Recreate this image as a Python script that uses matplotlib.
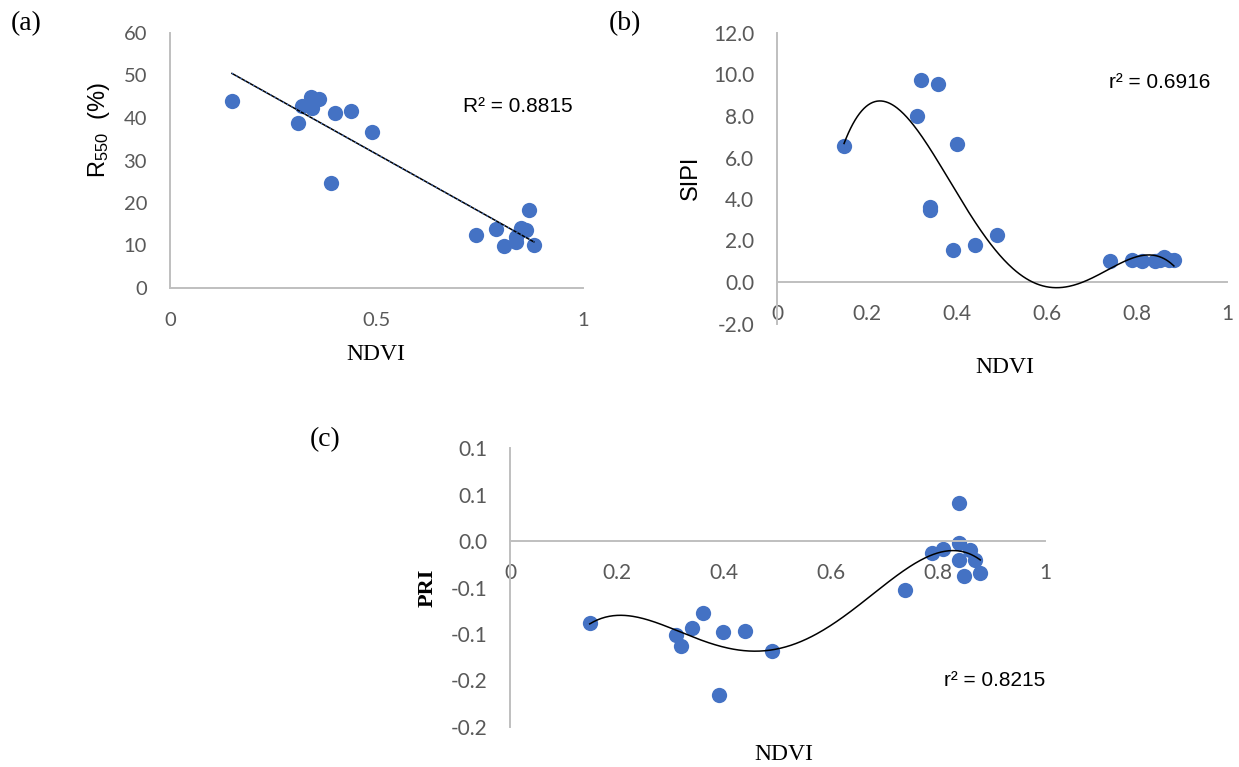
import numpy as np
import matplotlib
matplotlib.use("Agg")
import matplotlib.pyplot as plt
from matplotlib.ticker import FixedLocator, FixedFormatter, FormatStrFormatter

FIG_W, FIG_H = 1239, 767

# (a) R550 vs NDVI
ndvi_a = [0.150, 0.309, 0.319, 0.341, 0.343, 0.361, 0.389, 0.399, 0.439, 0.489,
          0.740, 0.790, 0.809, 0.838, 0.838, 0.850, 0.862, 0.869, 0.881]
r550 = [43.9, 38.8, 42.8, 45.0, 42.3, 44.4, 24.6, 41.1, 41.7, 36.8,
        12.4, 13.8, 9.8, 10.8, 12.0, 14.2, 13.6, 18.3, 10.2]

# (b) SIPI vs NDVI
ndvi_b = [0.149, 0.310, 0.320, 0.357, 0.339, 0.339, 0.390, 0.400, 0.439, 0.489,
          0.739, 0.789, 0.810, 0.839, 0.851, 0.860, 0.871, 0.882]
sipi = [6.57, 8.0, 9.75, 9.55, 3.62, 3.46, 1.53, 6.65, 1.77, 2.25,
        1.01, 1.05, 1.01, 1.00, 1.05, 1.20, 1.05, 1.05]

# (c) PRI vs NDVI
ndvi_c = [0.149, 0.310, 0.320, 0.340, 0.360, 0.390, 0.399, 0.439, 0.489, 0.739,
          0.788, 0.809, 0.839, 0.839, 0.839, 0.860, 0.849, 0.870, 0.879]
pri = [-0.0877, -0.1009, -0.1124, -0.0938, -0.0777, -0.1654, -0.0981, -0.0963, -0.1181, -0.0526,
       -0.0132, -0.0086, 0.0412, -0.0018, -0.0204, -0.0097, -0.0376, -0.0204, -0.0340]
pri_ticks = [0.1, 0.05, 0.0, -0.05, -0.1, -0.15, -0.2]
pri_tick_labels = ["0.1", "0.1", "0.0", "-0.1", "-0.1", "-0.2", "-0.2"]

BLUE = "#4472C4"
GRID = "#BFBFBF"
TICK = "#595959"
SERIF = "Liberation Serif"
SANS = "Liberation Sans"
TICKFONT = "Lato"

plt.rcParams["mathtext.fontset"] = "custom"
plt.rcParams["mathtext.rm"] = SANS
plt.rcParams["mathtext.it"] = SANS


def box(left, top, right, bottom):
    return [left / FIG_W, 1 - bottom / FIG_H, (right - left) / FIG_W, (bottom - top) / FIG_H]


def style_axes(ax, size, xpad, ypad):
    for side in ("top", "right"):
        ax.spines[side].set_visible(False)
    for side in ("left", "bottom"):
        ax.spines[side].set_color(GRID)
        ax.spines[side].set_linewidth(1.4)
    ax.tick_params(axis="both", length=0, labelcolor=TICK, labelsize=size)
    ax.tick_params(axis="x", pad=xpad)
    ax.tick_params(axis="y", pad=ypad)
    for lab in ax.get_xticklabels() + ax.get_yticklabels():
        lab.set_fontfamily(TICKFONT)


def trend(ax, x, y, deg, dotted=False):
    coef = np.polyfit(x, y, deg)
    xs = np.linspace(min(x), max(x), 300)
    ax.plot(xs, np.polyval(coef, xs), color="black", lw=1.1, zorder=3)
    if dotted:
        ax.plot(xs, np.polyval(coef, xs), color=BLUE, lw=1.0, ls=(0, (1, 2.5)), zorder=4)


def put(x, y, s, **kw):
    fig.text(x / FIG_W, 1 - y / FIG_H, s, **kw)


fig = plt.figure(figsize=(FIG_W / 100, FIG_H / 100), dpi=100)

# ---- (a)
ax_a = fig.add_axes(box(170, 33, 583, 288))
ax_a.plot(ndvi_a, r550, "o", color=BLUE, ms=11, mec="none", zorder=2)
trend(ax_a, ndvi_a, r550, 1, dotted=True)
ax_a.set_xlim(0, 1)
ax_a.set_ylim(0, 60)
ax_a.set_xticks([0, 0.5, 1])
ax_a.set_xticklabels(["0", "0.5", "1"])
ax_a.set_yticks(range(0, 61, 10))
style_axes(ax_a, 14.5, 17, 16.5)
put(463, 106, "R² = 0.8815", fontsize=15, family=SANS, va="center", ha="left")
put(376, 355, "NDVI", fontsize=17, family=SERIF, ha="center", va="center")
put(99, 130, r"R$_{550}$  (%)", fontsize=17, family=SANS, rotation=90, ha="center", va="center")
put(11, 24, "(a)", fontsize=20, family=SERIF, ha="left", va="center")

# ---- (b)
ax_b = fig.add_axes(box(777, 33, 1227, 323.5))
ax_b.plot(ndvi_b, sipi, "o", color=BLUE, ms=11, mec="none", zorder=2)
trend(ax_b, ndvi_b, sipi, 4)
ax_b.set_xlim(0, 1)
ax_b.set_ylim(-2, 12)
ax_b.spines["bottom"].set_position(("data", 0))
ax_b.set_xticks([0, 0.2, 0.4, 0.6, 0.8, 1])
ax_b.set_xticklabels(["0", "0.2", "0.4", "0.6", "0.8", "1"])
ax_b.set_yticks(np.arange(-2, 12.1, 2))
ax_b.yaxis.set_major_formatter(FormatStrFormatter("%.1f"))
style_axes(ax_b, 15, 16, 16.5)
put(1109, 83, "r² = 0.6916", fontsize=15, family=SANS, va="center", ha="left")
put(1005, 368, "NDVI", fontsize=17, family=SERIF, ha="center", va="center")
put(691, 178, "SIPI", fontsize=17, family=SANS, rotation=90, ha="center", va="center")
put(609, 24, "(b)", fontsize=20, family=SERIF, ha="left", va="center")

# ---- (c)
ax_c = fig.add_axes(box(510, 448, 1045, 727))
ax_c.plot(ndvi_c, pri, "o", color=BLUE, ms=11, mec="none", zorder=2)
trend(ax_c, ndvi_c, pri, 4)
ax_c.set_xlim(0, 1)
ax_c.set_ylim(-0.2, 0.1)
ax_c.spines["bottom"].set_position(("data", 0))
ax_c.set_xticks([0, 0.2, 0.4, 0.6, 0.8, 1])
ax_c.set_xticklabels(["0", "0.2", "0.4", "0.6", "0.8", "1"])
ax_c.yaxis.set_major_locator(FixedLocator(pri_ticks))
ax_c.yaxis.set_major_formatter(FixedFormatter(pri_tick_labels))
style_axes(ax_c, 15, 16, 16.5)
put(944, 680, "r² = 0.8215", fontsize=15, family=SANS, va="center", ha="left")
put(784, 755, "NDVI", fontsize=17, family=SERIF, ha="center", va="center")
put(428, 588, "PRI", fontsize=16, family=SERIF, weight="bold", rotation=90, ha="center", va="center")
put(310, 440, "(c)", fontsize=20, family=SERIF, ha="left", va="center")

fig.savefig("out.png", dpi=100, facecolor="white")
